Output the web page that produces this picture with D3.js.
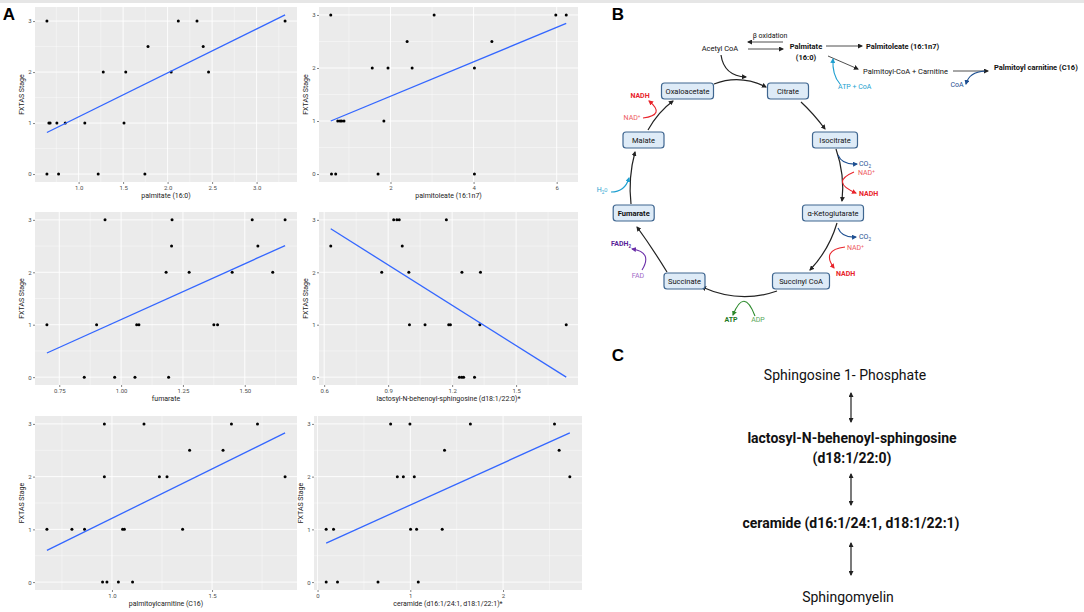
<!DOCTYPE html>
<html>
<head>
<meta charset="utf-8">
<script src="https://cdn.jsdelivr.net/npm/d3@7"></script>
<style>
body { margin: 0; background: #fff; }
svg { display: block; font-family: Roboto, "Liberation Sans", Arial, sans-serif; }
</style>
</head>
<body>
<svg width="1084" height="612"></svg>
<script>
// ---- panel A: values ----
var palmitateX = [0.644, 0.644, 0.666, 0.68, 0.756, 0.775, 0.85, 1.07, 1.22, 1.277, 1.51, 1.53, 1.745, 1.78, 2.04, 2.12, 2.33, 2.40, 2.46, 3.32];
var palmitateY = [3, 0, 1, 1, 1, 0, 1, 1, 0, 2, 1, 2, 0, 2.5, 2, 3, 3, 2.5, 2, 3];
var palmitateFit = [0.644, 0.815, 3.32, 3.12];   // x0, y0, x1, y1 of the lm line

var palmitoleateX = [0.562, 0.579, 0.68, 0.73, 0.786, 0.825, 0.88, 1.56, 1.70, 1.84, 1.94, 2.40, 2.52, 3.05, 4.02, 4.02, 4.44, 5.98, 6.23];
var palmitoleateY = [3, 0, 0, 1, 1, 1, 1, 2, 0, 1, 2, 2.5, 2, 3, 2, 0, 2.5, 3, 3];
var palmitoleateFit = [0.562, 1.0, 6.23, 2.84];

var fumarateX = [0.70, 0.851, 0.901, 0.935, 0.974, 1.056, 1.063, 1.072, 1.182, 1.192, 1.204, 1.206, 1.275, 1.375, 1.39, 1.449, 1.53, 1.553, 1.613, 1.663];
var fumarateY = [1, 0, 1, 3, 0, 0, 1, 1, 2, 0, 2.5, 3, 2, 1, 1, 2, 3, 2.5, 2, 3];
var fumarateFit = [0.70, 0.46, 1.663, 2.51];

var lactosylX = [0.631, 0.870, 0.926, 0.941, 0.952, 0.966, 0.997, 1.00, 1.073, 1.173, 1.184, 1.192, 1.234, 1.245, 1.254, 1.246, 1.305, 1.33, 1.333, 1.735];
var lactosylY = [2.5, 2, 3, 3, 3, 2.5, 2, 1, 1, 3, 1, 1, 0, 0, 0, 2, 0, 1, 2, 1];
var lactosylFit = [0.631, 2.83, 1.735, 0.0];

var carnitineX = [0.675, 0.80, 0.863, 0.953, 0.975, 0.962, 0.962, 1.032, 1.053, 1.062, 1.103, 1.16, 1.237, 1.275, 1.353, 1.388, 1.555, 1.597, 1.727, 1.865];
var carnitineY = [1, 1, 1, 0, 0, 3, 2, 0, 1, 1, 0, 3, 2, 2, 1, 2.5, 2.5, 3, 3, 2];
var carnitineFit = [0.675, 0.60, 1.865, 2.83];

var ceramideX = [0.093, 0.093, 0.172, 0.215, 0.652, 0.788, 0.86, 0.925, 0.996, 1.003, 1.043, 1.068, 1.086, 1.344, 1.369, 1.648, 2.555, 2.605, 2.72];
var ceramideY = [1, 0, 1, 0, 0, 3, 2, 2, 3, 1, 2, 1, 0, 1, 2.5, 3, 3, 2.5, 2];
var ceramideFit = [0.093, 0.74, 2.72, 2.83];

var xTitles = ["palmitate (16:0)", "palmitoleate (16:1n7)", "fumarate",
  "lactosyl-N-behenoyl-sphingosine (d18:1/22:0)*", "palmitoylcarnitine (C16)",
  "ceramide (d16:1/24:1, d18:1/22:1)*"];
var xTicks = [[1.0, 1.5, 2.0, 2.5, 3.0], [2, 4, 6], [0.75, 1.00, 1.25, 1.50],
  [0.6, 0.9, 1.2, 1.5], [1.0, 1.5], [0, 1, 2]];
var xTickFmt = [".1f", "d", ".2f", ".1f", ".1f", "d"];
var yTicks = [0, 1, 2, 3];
var yTitle = "FXTAS Stage";

// ---- panel B / C labels ----
var tcaSteps = ["Oxaloacetate", "Citrate", "Isocitrate", "α-Ketoglutarate", "Succinyl CoA", "Succinate", "Fumarate", "Malate"];
var sphingoSteps = ["Sphingosine 1- Phosphate", "lactosyl-N-behenoyl-sphingosine", "(d18:1/22:0)", "ceramide (d16:1/24:1, d18:1/22:1)", "Sphingomyelin"];

var svg = d3.select("svg");

svg.append("rect").attr("x", 0).attr("y", 0).attr("width", 1084).attr("height", 3).attr("fill", "#e6e6e6");

// plot boxes [left, right, top, bottom]
var boxes = [[35, 297, 7, 182], [319, 578, 7, 182], [35, 297, 212, 385],
  [319, 578, 212, 385], [35, 297, 416, 590], [314, 582, 416, 590]];

var series = [
  [palmitateX, palmitateY, palmitateFit],
  [palmitoleateX, palmitoleateY, palmitoleateFit],
  [fumarateX, fumarateY, fumarateFit],
  [lactosylX, lactosylY, lactosylFit],
  [carnitineX, carnitineY, carnitineFit],
  [ceramideX, ceramideY, ceramideFit]
];

function expand(ext) {
  var pad = (ext[1] - ext[0]) * 0.05;
  return [ext[0] - pad, ext[1] + pad];
}

series.forEach(function(s, i) {
  var b = boxes[i], xs = s[0], ys = s[1], fit = s[2];
  var x = d3.scaleLinear().domain(expand(d3.extent(xs.concat([fit[0], fit[2]])))).range([b[0], b[1]]);
  var y = d3.scaleLinear().domain(expand(d3.extent(ys.concat([fit[1], fit[3]])))).range([b[3], b[2]]);
  var g = svg.append("g");

  g.append("rect").attr("x", b[0]).attr("y", b[2]).attr("width", b[1] - b[0]).attr("height", b[3] - b[2]).attr("fill", "#ebebeb");

  // minor grid half way between the majors
  var tk = xTicks[i], step = tk[1] - tk[0];
  var xMinor = d3.range(tk[0] - step / 2, tk[tk.length - 1] + step, step).filter(function(v) {
    return v > x.domain()[0] && v < x.domain()[1];
  });
  var yMinor = [0.5, 1.5, 2.5];
  g.selectAll(".xm").data(xMinor).enter().append("line")
    .attr("x1", x).attr("x2", x).attr("y1", b[2]).attr("y2", b[3])
    .attr("stroke", "#fff").attr("stroke-width", 0.4);
  g.selectAll(".ym").data(yMinor).enter().append("line")
    .attr("y1", y).attr("y2", y).attr("x1", b[0]).attr("x2", b[1])
    .attr("stroke", "#fff").attr("stroke-width", 0.4);
  g.selectAll(".xg").data(tk).enter().append("line")
    .attr("x1", x).attr("x2", x).attr("y1", b[2]).attr("y2", b[3])
    .attr("stroke", "#fff").attr("stroke-width", 0.9);
  g.selectAll(".yg").data(yTicks).enter().append("line")
    .attr("y1", y).attr("y2", y).attr("x1", b[0]).attr("x2", b[1])
    .attr("stroke", "#fff").attr("stroke-width", 0.9);

  // axes
  var xa = g.append("g").attr("transform", "translate(0," + b[3] + ")")
    .call(d3.axisBottom(x).tickValues(tk).tickFormat(d3.format(xTickFmt[i])).tickSize(2).tickPadding(1.5));
  var ya = g.append("g").attr("transform", "translate(" + b[0] + ",0)")
    .call(d3.axisLeft(y).tickValues(yTicks).tickFormat(d3.format("d")).tickSize(2).tickPadding(1.5));
  [xa, ya].forEach(function(a) {
    a.select(".domain").remove();
    a.selectAll("line").attr("stroke", "#333").attr("stroke-width", 0.6);
    a.selectAll("text").attr("fill", "#4d4d4d").attr("font-size", 6).attr("font-family", "Roboto, 'Liberation Sans', sans-serif");
  });

  g.append("text").attr("x", (b[0] + b[1]) / 2).attr("y", b[3] + 16)
    .attr("text-anchor", "middle").attr("font-size", 7).attr("fill", "#222").text(xTitles[i]);
  g.append("text").attr("transform", "translate(" + (b[0] - 11) + "," + ((b[2] + b[3]) / 2) + ") rotate(-90)")
    .attr("text-anchor", "middle").attr("font-size", 7).attr("fill", "#222").text(yTitle);

  g.selectAll(".pt").data(xs).enter().append("circle")
    .attr("cx", function(d) { return x(d); })
    .attr("cy", function(d, j) { return y(ys[j]); })
    .attr("r", 1.5).attr("fill", "#000");

  g.append("line")
    .attr("x1", x(fit[0])).attr("y1", y(fit[1]))
    .attr("x2", x(fit[2])).attr("y2", y(fit[3]))
    .attr("stroke", "#3366ff").attr("stroke-width", 1.3);
});

// panel letters
[["A", 9, 14], ["B", 618, 14], ["C", 618, 355]].forEach(function(l) {
  svg.append("text").attr("x", l[1]).attr("y", l[2]).attr("text-anchor", "middle")
    .attr("dominant-baseline", "central").attr("font-family", "'Liberation Sans', Arial, sans-serif")
    .attr("font-weight", "bold").attr("font-size", 17).text(l[0]);
});

// ---- panel B: TCA cycle ----
var defs = svg.append("defs");
var colors = {k: "#222", red: "#e8242b", blue: "#1d4f91", cyan: "#1e9fd0", purple: "#6a2ea8", green: "#2c8a2c"};
Object.keys(colors).forEach(function(k) {
  defs.append("marker").attr("id", "ar-" + k).attr("viewBox", "0 0 10 10")
    .attr("refX", 8).attr("refY", 5).attr("markerWidth", 5).attr("markerHeight", 5)
    .attr("markerUnits", "userSpaceOnUse").attr("orient", "auto-start-reverse")
    .append("path").attr("d", "M0,0 L10,5 L0,10 z").attr("fill", colors[k]);
});

var tcaPos = [[687.5, 91, 52], [788, 91, 41], [835, 140, 45], [833, 213, 61],
  [801, 281, 57], [684.5, 281, 41], [633.7, 213, 41], [643.5, 140, 41]];

var cycleArrows = [
  "M714,84 Q740,74 766,87",
  "M801,102 Q813,113 825,129",
  "M836,149 Q845,175 842,201",
  "M837,223 Q829,250 810,270",
  "M777,291 Q740,304 702,287",
  "M667,272 Q651,246 637,227",
  "M631,204 Q628,178 635,152",
  "M648,130 Q658,112 673,101"
];

function arrow(d, col, w, both) {
  var p = svg.append("path").attr("d", d).attr("fill", "none")
    .attr("stroke", colors[col]).attr("stroke-width", w || 1.1)
    .attr("marker-end", "url(#ar-" + col + ")");
  if (both) p.attr("marker-start", "url(#ar-" + col + ")");
  return p;
}

cycleArrows.forEach(function(d) { arrow(d, "k", 1.2); });

// feeder reactions
arrow("M721,55 Q724,76 746,77", "k", 1.2);
arrow("M783,42 L748,42", "k", 0.8);
arrow("M748,49 L783,49", "k", 0.8);
arrow("M826,46 L862,46", "k", 0.8);
arrow("M828,56 L858,69", "k", 0.8);
arrow("M953,71 L988,71", "k", 0.8);
arrow("M840,84 Q832,75 833,59", "cyan", 1.1);
arrow("M985,71 Q969,72 966,84", "blue", 1.1);

// cofactors
arrow("M643,118 Q666,115 649,101", "red", 1.1);
arrow("M611,192 Q625,192 629,178", "cyan", 1.1);
arrow("M838,155 Q842,165 857,164", "blue", 1.1);
arrow("M854,172 Q830,182 856,193", "red", 1.1);
arrow("M838,228 Q842,238 856,237", "blue", 1.1);
arrow("M845,247 Q821,250 834,268", "red", 1.1);
arrow("M642,270 Q653,252 632,249", "purple", 1.1);
arrow("M755,316 Q744,287 733,315", "green", 1.1);

var tg = svg.append("g").attr("font-size", 7.5);
tcaSteps.forEach(function(name, i) {
  var p = tcaPos[i];
  tg.append("rect").attr("x", p[0] - p[2] / 2).attr("y", p[1] - 8).attr("width", p[2]).attr("height", 16)
    .attr("rx", 3).attr("fill", "#deebf7").attr("stroke", "#3f6690").attr("stroke-width", 1.2);
  tg.append("text").attr("x", p[0]).attr("y", p[1]).attr("text-anchor", "middle")
    .attr("dominant-baseline", "central").attr("fill", "#111")
    .attr("font-weight", name === "Fumarate" ? "bold" : "normal").text(name);
});

function label(x, y, txt, opts) {
  opts = opts || {};
  var t = svg.append("text").attr("x", x).attr("y", y).attr("dominant-baseline", "central")
    .attr("text-anchor", opts.anchor || "start").attr("font-size", opts.size || 7.5)
    .attr("fill", opts.fill || "#111").attr("font-weight", opts.bold ? "bold" : "normal");
  txt.forEach(function(part) {
    if (typeof part === "string") t.append("tspan").text(part);
    else t.append("tspan").attr("font-size", (opts.size || 7.5) * 0.65).attr("dy", part[1]).text(part[0]);
  });
  return t;
}

label(720, 48, ["Acetyl CoA"], {anchor: "middle"});
label(770, 36, ["β oxidation"], {anchor: "middle", size: 7});
label(806, 46, ["Palmitate"], {anchor: "middle", bold: true});
label(806, 57, ["(16:0)"], {anchor: "middle", bold: true});
label(866, 46, ["Palmitoleate (16:1n7)"], {bold: true});
label(863, 71, ["Palmitoyl-CoA + Carnitine"]);
label(838, 87, ["ATP + CoA"], {fill: "#1e9fd0", size: 7});
label(957, 85, ["CoA"], {anchor: "middle", fill: "#1d4f91", size: 7});
label(994, 67, ["Palmitoyl carnitine (C16)"], {bold: true});

var nad = ["NAD", ["+", -2.5]];
var co2 = ["CO", ["2", 2], ["", -2]];
label(640, 96, ["NADH"], {anchor: "middle", fill: "#e8242b", bold: true, size: 7});
label(632, 118, nad, {anchor: "middle", fill: "#ee5a5e", size: 7});
label(602, 190, ["H", ["2", 2], ["O", -2]], {anchor: "middle", fill: "#1e9fd0", size: 7});
label(859, 164, co2, {fill: "#1d4f91", size: 7});
label(858, 173, nad, {fill: "#ee5a5e", size: 7});
label(859, 194, ["NADH"], {fill: "#e8242b", bold: true, size: 7});
label(859, 237, co2, {fill: "#1d4f91", size: 7});
label(847, 248, nad, {fill: "#ee5a5e", size: 7});
label(836, 274, ["NADH"], {fill: "#e8242b", bold: true, size: 7});
label(611, 244, ["FADH", ["2", 2]], {fill: "#5b1f99", bold: true, size: 7});
label(638, 276, ["FAD"], {anchor: "middle", fill: "#a06cc7", size: 7});
label(731, 320, ["ATP"], {anchor: "middle", fill: "#1f7a1f", bold: true, size: 7});
label(758, 320, ["ADP"], {anchor: "middle", fill: "#5aa85a", size: 7});

// ---- panel C: sphingolipid chain ----
var cPos = [[845, 375, false], [852, 438, true], [852, 458, true], [851, 523, true], [848, 597, false]];
sphingoSteps.forEach(function(name, i) {
  svg.append("text").attr("x", cPos[i][0]).attr("y", cPos[i][1]).attr("text-anchor", "middle")
    .attr("dominant-baseline", "central").attr("font-size", 14)
    .attr("font-weight", cPos[i][2] ? "bold" : "normal").attr("fill", "#111").text(name);
});
[[393, 422], [474, 505], [543, 575]].forEach(function(a) {
  arrow("M851," + a[0] + " L851," + a[1], "k", 1.2, true);
});
</script>
</body>
</html>
